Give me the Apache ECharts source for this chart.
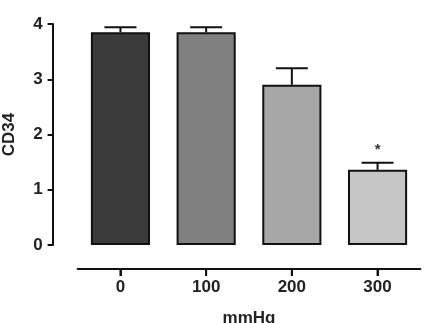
<!DOCTYPE html>
<html>
<head>
    <meta charset="utf-8" />
    <script src="https://cdn.jsdelivr.net/npm/echarts@6/dist/echarts.min.js"></script>
</head>
<body style="margin: 0">
    <div id="container" style="width: 430px;height: 323px;"></div>
    <script type="text/javascript">
        var dom = document.getElementById('container');
        var myChart = echarts.init(dom, null, { renderer: 'canvas' });

        // data
        const categories = ['0', '100', '200', '300'];
        const means = [3.85, 3.85, 2.90, 1.36];
        const errUp = [0.09, 0.09, 0.30, 0.13];
        const marks = ['', '', '', '*'];
        const barColors = ['#3b3b3b', '#808080', '#a7a7a7', '#c6c6c6'];

        const font = 'Arial, "Liberation Sans", sans-serif';
        const xOffset = 24;   // x axis sits detached below the bars

        var option = {
            backgroundColor: '#ffffff',
            animation: false,
            grid: {
                left: 77.6,
                right: 9.6,
                top: 24,
                bottom: 78,
                outerBoundsMode: 'none'
            },
            xAxis: {
                type: 'category',
                data: categories,
                offset: xOffset,
                name: 'mmHg',
                nameLocation: 'middle',
                nameGap: 41,
                nameTextStyle: { color: '#222', fontSize: 17, fontWeight: 'bold', fontFamily: font },
                axisLine: { show: true, onZero: false, lineStyle: { color: '#111', width: 2 } },
                axisTick: { show: true, alignWithLabel: true, length: 7, lineStyle: { color: '#111', width: 2 } },
                axisLabel: { margin: 10, color: '#222', fontSize: 17, fontWeight: 'bold', fontFamily: font }
            },
            yAxis: {
                type: 'value',
                min: 0,
                max: 4,
                interval: 1,
                offset: 25,
                name: 'CD34',
                nameLocation: 'middle',
                nameGap: 35,
                nameTextStyle: { color: '#222', fontSize: 17, fontWeight: 'bold', fontFamily: font },
                splitLine: { show: false },
                axisLine: { show: true, onZero: false, lineStyle: { color: '#111', width: 2 } },
                axisTick: { show: true, length: 5, lineStyle: { color: '#111', width: 2 } },
                axisLabel: { margin: 10, color: '#222', fontSize: 17, fontWeight: 'bold', fontFamily: font }
            },
            series: [
                {
                    type: 'bar',
                    barCategoryGap: '31%',
                    data: means.map(function (v, i) {
                        return {
                            value: v,
                            itemStyle: { color: barColors[i], borderColor: '#111', borderWidth: 2 }
                        };
                    })
                },
                {
                    // error bars (upper only), significance mark, and the x tick under each category
                    type: 'custom',
                    z: 3,
                    clip: false,
                    data: means.map(function (v, i) { return [i, v, v + errUp[i]]; }),
                    renderItem: function (params, api) {
                        var i = api.value(0);
                        var base = api.coord([i, api.value(1)]);
                        var top = api.coord([i, api.value(2)]);
                        var zero = api.coord([i, 0]);
                        var half = 16;
                        var children = [
                            { type: 'line', shape: { x1: base[0], y1: base[1], x2: top[0], y2: top[1] }, style: { stroke: '#111', lineWidth: 2 } },
                            { type: 'line', shape: { x1: top[0] - half, y1: top[1], x2: top[0] + half, y2: top[1] }, style: { stroke: '#111', lineWidth: 2 } },
                            { type: 'line', shape: { x1: zero[0], y1: zero[1] + xOffset, x2: zero[0], y2: zero[1] + xOffset + 7 }, style: { stroke: '#111', lineWidth: 2 } }
                        ];
                        if (marks[params.dataIndex]) {
                            children.push({
                                type: 'text',
                                style: {
                                    text: marks[params.dataIndex],
                                    x: top[0], y: top[1] - 13,
                                    align: 'center', verticalAlign: 'middle',
                                    fill: '#333', fontSize: 15, fontWeight: 'bold', fontFamily: font
                                }
                            });
                        }
                        return { type: 'group', children: children };
                    }
                }
            ]
        };

        myChart.setOption(option);
        window.addEventListener('resize', myChart.resize);
    </script>
</body>
</html>
